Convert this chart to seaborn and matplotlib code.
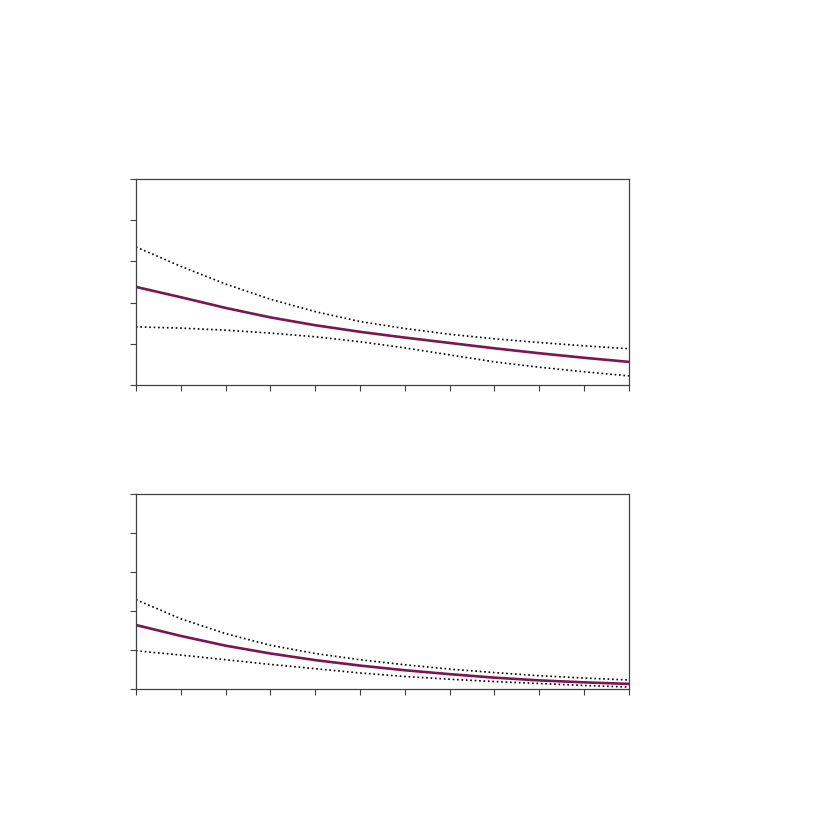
import pandas as pd
import matplotlib
matplotlib.use("Agg")
import matplotlib.pyplot as plt
import seaborn as sns

sns.set_style('ticks')

x = list(range(12))

# top panel
top_mid = [2.38, 2.13, 1.87, 1.64, 1.45, 1.29, 1.15, 1.02, 0.89, 0.77, 0.66, 0.56]
top_hi = [3.35, 2.88, 2.45, 2.08, 1.78, 1.54, 1.37, 1.23, 1.12, 1.03, 0.95, 0.88]
top_lo = [1.41, 1.38, 1.33, 1.26, 1.17, 1.05, 0.90, 0.73, 0.56, 0.43, 0.32, 0.22]

# bottom panel
bot_mid = [1.64, 1.36, 1.11, 0.91, 0.74, 0.60, 0.48, 0.38, 0.29, 0.22, 0.17, 0.13]
bot_hi = [2.29, 1.80, 1.42, 1.12, 0.91, 0.75, 0.62, 0.51, 0.42, 0.34, 0.28, 0.23]
bot_lo = [0.98, 0.87, 0.75, 0.63, 0.52, 0.41, 0.32, 0.25, 0.19, 0.14, 0.09, 0.05]

purple = '#7B1553'

fig = plt.figure(figsize=(8.27, 8.27), dpi=100)
ax1 = fig.add_axes([0.1644, 0.5345, 0.5961, 0.2491])
ax2 = fig.add_axes([0.1644, 0.1669, 0.5961, 0.2358])

def draw(ax, mid, hi, lo):
    df = pd.DataFrame({'x': x, 'mid': mid, 'hi': hi, 'lo': lo})
    sns.lineplot(data=df, x='x', y='hi', ax=ax, color='black', linestyle=':', linewidth=1.2)
    sns.lineplot(data=df, x='x', y='lo', ax=ax, color='black', linestyle=':', linewidth=1.2)
    sns.lineplot(data=df, x='x', y='mid', ax=ax, color=purple, linewidth=1.9)
    ax.set_xlim(0, 11)
    ax.set_ylim(0, 5)
    ax.set_xticks(range(12))
    ax.set_yticks(range(6))
    ax.set_xticklabels([])
    ax.set_yticklabels([])
    ax.set_xlabel('')
    ax.set_ylabel('')
    ax.tick_params(direction='out', length=4, width=0.8, colors='#404040')
    for s in ax.spines.values():
        s.set_color('#404040')
        s.set_linewidth(0.9)
        s.set_visible(True)

draw(ax1, top_mid, top_hi, top_lo)
draw(ax2, bot_mid, bot_hi, bot_lo)

fig.savefig('out.png', dpi=100)
